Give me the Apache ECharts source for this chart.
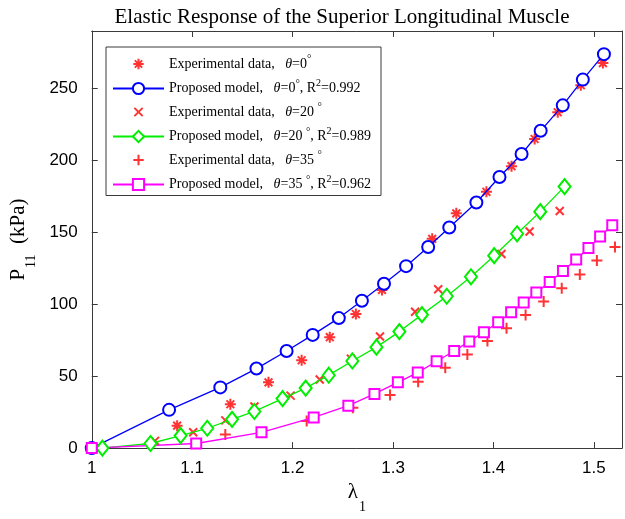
<!DOCTYPE html>
<html>
<head>
<meta charset="utf-8">
<script src="https://cdn.jsdelivr.net/npm/echarts@6/dist/echarts.min.js"></script>
<style>
html,body{margin:0;padding:0;background:#fff;}
#chart{width:625px;height:519px;}
</style>
</head>
<body>
<div id="chart"></div>
<script>
// ---- data ----
const lam0Exp = [1, 1.085, 1.138, 1.176, 1.209, 1.237, 1.263, 1.289, 1.313, 1.339, 1.363, 1.393, 1.418, 1.441, 1.464, 1.487, 1.509];
const p0Exp   = [0, 15.6, 30.5, 45.7, 61.1, 77.1, 93.2, 110, 126.5, 145.5, 163.2, 178.2, 196, 214.9, 233.5, 252.3, 267.7];

const lam0Mod = [1, 1.077, 1.128, 1.164, 1.194, 1.220, 1.246, 1.269, 1.291, 1.313, 1.335, 1.356, 1.383, 1.406, 1.428, 1.447, 1.469, 1.489, 1.510];
const p0Mod   = [0, 26.6, 42.2, 55.3, 67.5, 78.7, 90.4, 102.4, 114.3, 126.5, 139.8, 153.4, 170.8, 188.5, 204.5, 220.6, 238.3, 256.2, 273.9];

const lam20Exp = [1, 1.063, 1.101, 1.133, 1.162, 1.198, 1.227, 1.258, 1.287, 1.322, 1.345, 1.378, 1.408, 1.436, 1.466];
const p20Exp   = [0, 5, 11, 19.3, 28.9, 36.5, 47.7, 62.2, 77.6, 94.8, 110.4, 119.6, 135, 150.6, 164.8];

const lam20Mod = [1.0106, 1.0585, 1.0885, 1.115, 1.1397, 1.1619, 1.19, 1.213, 1.236, 1.2595, 1.2835, 1.3063, 1.3288, 1.3535, 1.3776, 1.4007, 1.4235, 1.4466, 1.4708];
const p20Mod   = [0, 3.2, 8.7, 13.8, 20, 25.5, 34.4, 41.7, 50.7, 60.6, 70.2, 81, 92.8, 105.6, 119.1, 133.8, 149, 164.4, 181.8];

const lam35Exp = [1, 1.133, 1.214, 1.26, 1.297, 1.325, 1.352, 1.374, 1.394, 1.413, 1.432, 1.45, 1.468, 1.486, 1.503, 1.521];
const p35Exp   = [0, 9.4, 18.9, 28, 37, 46.1, 55.8, 65, 74.4, 83.3, 92.5, 101.9, 111.1, 120.7, 130.4, 139.8];

const lam35Mod = [1, 1.104, 1.169, 1.221, 1.2555, 1.2815, 1.3048, 1.3246, 1.3434, 1.3609, 1.3759, 1.3905, 1.4047, 1.4176, 1.4301, 1.4427, 1.456, 1.4692, 1.4824, 1.4946, 1.5062, 1.5183];
const p35Mod   = [0, 3.2, 11, 21.3, 29.5, 37.7, 45.7, 52.5, 60.4, 67.5, 74.2, 80.6, 87.5, 94.4, 101.2, 108.1, 115.5, 123.1, 131.1, 139.1, 147.2, 155];

const xTicks = [1, 1.1, 1.2, 1.3, 1.4, 1.5];
const yTicks = [0, 50, 100, 150, 200, 250];

const titleText = 'Elastic Response of the Superior Longitudinal Muscle';
// ---------------------------------------

const zip = (a, b) => a.map((v, i) => [v, b[i]]);

const SERIF = "'Liberation Serif','Times New Roman',serif";
const SANS = "'Liberation Sans',Arial,Helvetica,sans-serif";
const AX = '#3a3a3a';

const STAR2 = 'path://M0,-1L0,1M-1,0L1,0M-0.707,-0.707L0.707,0.707M-0.707,0.707L0.707,-0.707';
const XMARK = 'path://M-1,-1L1,1M-1,1L1,-1';
const PLUS = 'path://M0,-1L0,1M-1,0L1,0';
const pad = 'M-1.35,-1.35M1.35,1.35';

const legendLabels = {
  exp0: '{n|Experimental data,   }{i|θ}{n|=0}{d|°}',
  mod0: '{n|Proposed model,   }{i|θ}{n|=0}{d|°}{n|, R}{s|2}{n|=0.992}',
  exp20: '{n|Experimental data,   }{i|θ}{n|=20 }{d|°}',
  mod20: '{n|Proposed model,   }{i|θ}{n|=20 }{d|°}{n|, R}{s|2}{n|=0.989}',
  exp35: '{n|Experimental data,   }{i|θ}{n|=35 }{d|°}',
  mod35: '{n|Proposed model,   }{i|θ}{n|=35 }{d|°}{n|, R}{s|2}{n|=0.962}'
};

const chart = echarts.init(document.getElementById('chart'), null, {renderer: 'canvas'});

const isTick = (v, arr) => arr.some(t => Math.abs(t - v) < 1e-6);

const xAxisBase = {
  type: 'value', min: 1, max: 1.528, interval: 0.1,
  axisLine: {show: true, onZero: false, lineStyle: {color: AX, width: 1}},
  axisTick: {show: true, inside: true, length: 6, lineStyle: {color: AX}},
  splitLine: {show: false}
};
const yAxisBase = {
  type: 'value', min: 0, max: 290, interval: 50,
  axisLine: {show: true, onZero: false, lineStyle: {color: AX, width: 1}},
  axisTick: {show: true, inside: true, length: 6, lineStyle: {color: AX}},
  splitLine: {show: false}
};

const redStroke = w => ({color: '#ff0000', borderColor: '#ff0000', borderWidth: w});

const option = {
  animation: false,
  backgroundColor: '#fff',
  title: {
    text: titleText,
    left: 337, top: 2, textAlign: 'center',
    textStyle: {fontFamily: SERIF, fontSize: 21, fontWeight: 'normal', color: '#000'}
  },
  grid: {left: 90, top: 31, width: 533, height: 421, containLabel: false},
  xAxis: [
    Object.assign({}, xAxisBase, {
      position: 'bottom',
      name: '{a|λ}{b|1}', nameLocation: 'middle', nameGap: 27,
      nameTextStyle: {rich: {
        a: {fontFamily: SERIF, fontSize: 21, color: '#000', lineHeight: 24, verticalAlign: 'top'},
        b: {fontFamily: SERIF, fontSize: 14, color: '#000', lineHeight: 14, verticalAlign: 'bottom', padding: [0, 0, -8, 1]}
      }},
      axisLabel: {show: true, margin: 12, fontFamily: SANS, fontSize: 17, color: '#000',
        formatter: v => isTick(v, xTicks) ? (Math.abs(v - 1) < 1e-6 ? '1' : v.toFixed(1)) : ''}
    }),
    Object.assign({}, xAxisBase, {position: 'top', axisLabel: {show: false}})
  ],
  yAxis: [
    Object.assign({}, yAxisBase, {
      position: 'left',
      name: '{a|P}{b|11}{a|  (kPa)}', nameLocation: 'middle', nameGap: 51, nameRotate: 90,
      nameTextStyle: {rich: {
        a: {fontFamily: SERIF, fontSize: 21, color: '#000', lineHeight: 24},
        b: {fontFamily: SERIF, fontSize: 14, color: '#000', lineHeight: 14, verticalAlign: 'bottom', padding: [0, 0, -8, 1]}
      }},
      axisLabel: {show: true, margin: 14, fontFamily: SANS, fontSize: 17, color: '#000',
        formatter: v => isTick(v, yTicks) ? String(v) : ''}
    }),
    Object.assign({}, yAxisBase, {position: 'right', axisLabel: {show: false}})
  ],
  legend: {
    orient: 'vertical', left: 106, top: 47,
    padding: [7, 10, 4, 6], itemGap: 6.5, itemWidth: 51, itemHeight: 14,
    backgroundColor: '#fff', borderColor: AX, borderWidth: 1, borderRadius: 0,
    data: [
      {name: 'exp0', icon: STAR2 + pad},
      {name: 'mod0'},
      {name: 'exp20', icon: XMARK + 'M-1.7,-1.7M1.7,1.7'},
      {name: 'mod20'},
      {name: 'exp35', icon: PLUS + pad},
      {name: 'mod35'}
    ],
    formatter: name => legendLabels[name],
    textStyle: {
      padding: [0, 0, 0, 0],
      rich: {
        n: {fontFamily: SERIF, fontSize: 14, color: '#000', lineHeight: 20},
        i: {fontFamily: SERIF, fontSize: 14, fontStyle: 'italic', color: '#000', lineHeight: 20},
        d: {fontFamily: SERIF, fontSize: 11, color: '#000', lineHeight: 12, verticalAlign: 'top'},
        s: {fontFamily: SERIF, fontSize: 10, color: '#000', lineHeight: 10, verticalAlign: 'top'}
      }
    }
  },
  series: [
    {
      name: 'exp0', type: 'scatter', data: zip(lam0Exp, p0Exp),
      symbol: STAR2, symbolSize: 11, itemStyle: redStroke(2)
    },
    {
      name: 'mod0', type: 'line', data: zip(lam0Mod, p0Mod),
      symbol: 'emptyCircle', symbolSize: 12, showAllSymbol: true,
      itemStyle: {color: '#0000ff', borderColor: '#0000ff', borderWidth: 1.8},
      lineStyle: {color: '#0000ff', width: 1.3}
    },
    {
      name: 'exp20', type: 'scatter', data: zip(lam20Exp, p20Exp),
      symbol: XMARK, symbolSize: 8, itemStyle: redStroke(2)
    },
    {
      name: 'mod20', type: 'line', data: zip(lam20Mod, p20Mod),
      symbol: 'emptyDiamond', symbolSize: [12, 15], showAllSymbol: true,
      itemStyle: {color: '#00ee00', borderColor: '#00ee00', borderWidth: 1.8},
      lineStyle: {color: '#00ee00', width: 1.3}
    },
    {
      name: 'exp35', type: 'scatter', data: zip(lam35Exp, p35Exp),
      symbol: PLUS, symbolSize: 11, itemStyle: redStroke(2)
    },
    {
      name: 'mod35', type: 'line', data: zip(lam35Mod, p35Mod),
      symbol: 'emptyRect', symbolSize: 10, showAllSymbol: true,
      itemStyle: {color: '#ff00ff', borderColor: '#ff00ff', borderWidth: 1.8},
      lineStyle: {color: '#ff00ff', width: 1.3}
    }
  ]
};

chart.setOption(option);
</script>
</body>
</html>
